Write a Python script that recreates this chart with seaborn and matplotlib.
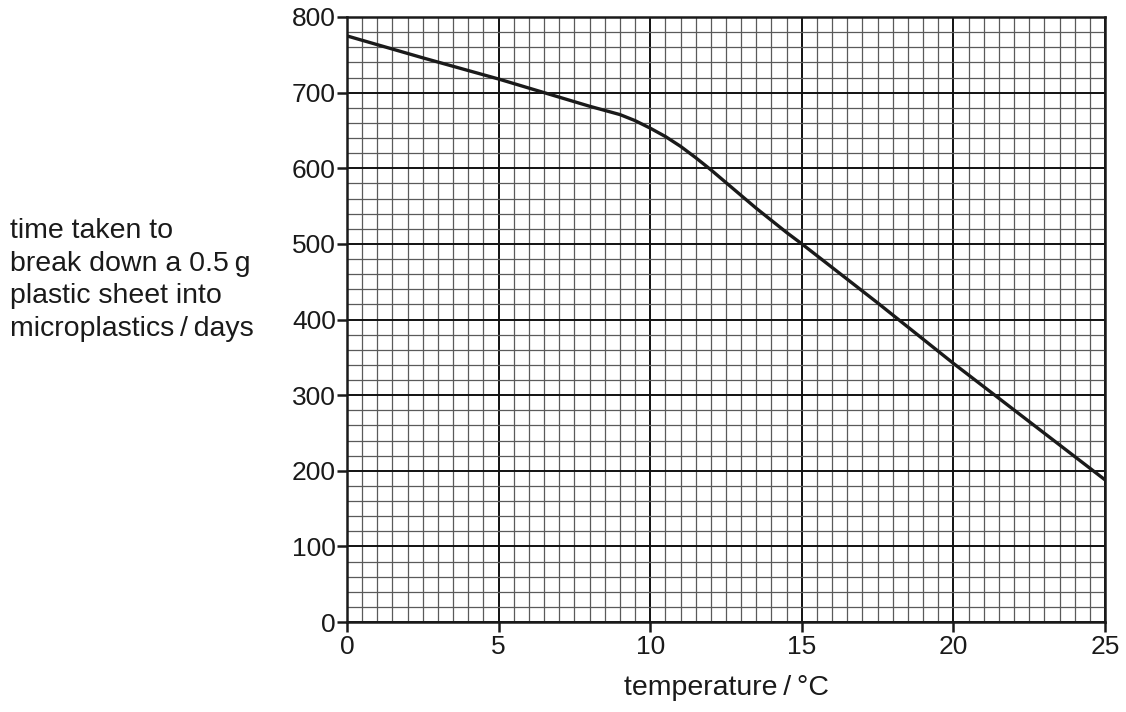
import matplotlib
matplotlib.use("Agg")
import matplotlib.pyplot as plt
import seaborn as sns
import pandas as pd
from matplotlib.ticker import MultipleLocator

# Data
temperature = [0, 2.5, 5, 7.5, 8, 9, 9.5, 10, 10.5, 11, 11.5, 12, 12.5, 13, 13.5,
               14, 14.5, 15, 17.5, 20, 22.5, 25]
days = [775, 746, 718, 688, 682, 671, 663, 653, 642, 629, 614, 598, 581, 564, 547,
        531, 515, 500, 422, 342, 265, 188]
x_ticks = [0, 5, 10, 15, 20, 25]
y_ticks = [0, 100, 200, 300, 400, 500, 600, 700, 800]

sns.set_theme(style="white")
plt.rcParams['font.family'] = ['Liberation Sans', 'DejaVu Sans']
plt.rcParams.update({
    "xtick.bottom": True, "ytick.left": True,
    "xtick.major.size": 7, "ytick.major.size": 7,
    "xtick.major.width": 1.8, "ytick.major.width": 1.8,
    "xtick.color": "#1a1a1a", "ytick.color": "#1a1a1a",
    "xtick.direction": "out", "ytick.direction": "out",
})

fig = plt.figure(figsize=(11.26, 7.12), dpi=100)
ax = fig.add_axes([347/1126, 1-622/712, (1105-347)/1126, (622-17)/712])

df = pd.DataFrame({"temperature": temperature, "days": days})

ax.set_xlim(0, 25)
ax.set_ylim(0, 800)

# graph-paper grid
ax.xaxis.set_minor_locator(MultipleLocator(0.5))
ax.yaxis.set_minor_locator(MultipleLocator(20))
ax.set_xticks(x_ticks)
ax.set_yticks(y_ticks)
ax.grid(which="minor", color="#5a5a5a", linewidth=0.9)
ax.grid(which="major", color="#111111", linewidth=1.4)

sns.lineplot(data=df, x="temperature", y="days", ax=ax, color="#1a1a1a",
             linewidth=2.4, zorder=3)

for s in ax.spines.values():
    s.set_color("#1a1a1a")
    s.set_linewidth(1.8)
    s.set_zorder(4)

ax.tick_params(which="major", bottom=True, left=True, direction="out", length=7,
               width=1.8, color="#1a1a1a", labelsize=19, labelcolor="#1a1a1a", pad=1)
ax.tick_params(which="minor", bottom=False, left=False, length=0)
ax.tick_params(axis="x", pad=2)
ax.set_xticklabels([str(v) for v in x_ticks])
ax.set_yticklabels([str(v) for v in y_ticks])

ax.set_xlabel("")
ax.set_ylabel("")

fig.text(10/1126, 1-280/712,
         "time taken to\nbreak down a 0.5\u2009g\nplastic sheet into\nmicroplastics\u2009/\u2009days",
         ha="left", va="center", fontsize=20.5, color="#1a1a1a", linespacing=1.32)
fig.text(726/1126, 1-688/712, "temperature\u2009/\u2009°C", ha="center", va="center",
         fontsize=20.5, color="#1a1a1a")

fig.savefig("out.png", dpi=100)
